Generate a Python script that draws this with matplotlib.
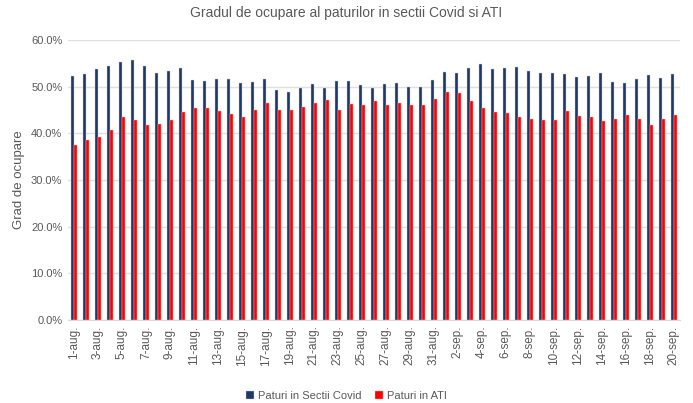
import numpy as np
import matplotlib
matplotlib.use("Agg")
import matplotlib.pyplot as plt
from matplotlib.ticker import FuncFormatter

plt.rcParams['font.family'] = ['Liberation Sans Narrow', 'Liberation Sans', 'DejaVu Sans']

# Data
days = [f"{d}-aug." for d in range(1, 32)] + [f"{d}-sep." for d in range(1, 21)]

covid = [52.2, 52.8, 53.7, 54.4, 55.3, 55.6, 54.5, 53.0, 53.3, 54.0,
         51.5, 51.2, 51.6, 51.6, 50.8, 51.0, 51.7, 49.2, 48.9, 49.8,
         50.5, 49.6, 51.1, 51.3, 50.3, 49.7, 50.5, 50.7, 50.0, 49.9,
         51.5, 53.2, 53.0, 54.0, 54.9, 53.7, 54.0, 54.3, 53.4, 53.0,
         52.9, 52.8, 52.1, 52.3, 52.9, 51.0, 50.8, 51.6, 52.5, 51.9,
         52.8]

ati = [37.5, 38.6, 39.2, 40.8, 43.4, 42.9, 41.8, 41.9, 42.9, 44.6,
       45.5, 45.5, 44.7, 44.2, 43.4, 44.9, 46.5, 44.9, 45.0, 45.7,
       46.5, 47.2, 45.0, 46.2, 46.0, 47.0, 46.0, 46.5, 46.0, 46.0,
       47.4, 48.9, 48.6, 47.0, 45.4, 44.6, 44.4, 43.5, 43.1, 42.9,
       42.9, 44.7, 43.7, 43.5, 42.7, 43.1, 44.0, 43.1, 41.8, 43.1,
       44.0]

NAVY = '#1F3864'
RED = '#FF0000'
GRAY = '#595959'

fig = plt.figure(figsize=(6.93, 4.03), dpi=100)
ax = fig.add_axes([0.098, 0.206, 0.883, 0.695])

x = np.arange(len(days))
w = 0.27
ax.bar(x - 0.14, covid, width=w, color=NAVY, edgecolor='#C9D1DE', linewidth=0.3,
       label='Paturi in Sectii Covid', zorder=3)
ax.bar(x + 0.14, ati, width=w, color=RED, edgecolor='#FFB0B0', linewidth=0.3,
       label='Paturi in ATI', zorder=3)

ax.set_xlim(-0.5, len(days) - 0.5)
ax.set_ylim(0, 60)
ax.set_yticks(np.arange(0, 61, 10))
ax.yaxis.set_major_formatter(FuncFormatter(lambda v, p: f"{v:.1f}%"))
ax.set_xticks(x[::2])
ax.set_xticklabels(days[::2], rotation=90)
ax.tick_params(axis='both', length=0, labelsize=8, colors=GRAY, pad=4)
ax.tick_params(axis='x', labelsize=8.5)

ax.grid(axis='y', color='#E0E0E0', linewidth=1, zorder=0)
for s in ['top', 'right', 'left']:
    ax.spines[s].set_visible(False)
ax.spines['bottom'].set_color('#D9D9D9')

ax.set_ylabel('Grad de ocupare', fontsize=9.5, color=GRAY, labelpad=4)
fig.suptitle('Gradul de ocupare al paturilor in sectii Covid si ATI',
             fontsize=10, color=GRAY, y=0.985)

fig.legend(loc='lower center', bbox_to_anchor=(0.5, -0.02), ncol=2, frameon=False,
           fontsize=8, labelcolor=GRAY, handlelength=0.7, handleheight=0.7,
           handletextpad=0.4, columnspacing=1.2)

fig.savefig('out.png', dpi=100, facecolor='white')
